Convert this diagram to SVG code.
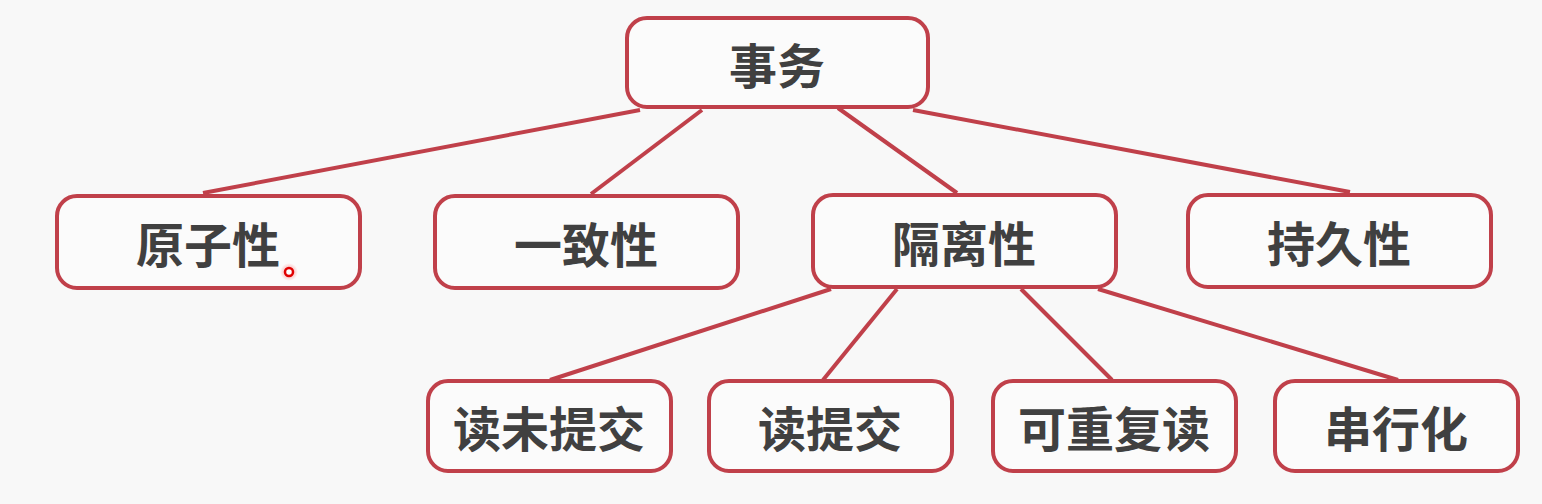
<svg xmlns="http://www.w3.org/2000/svg" width="1542" height="504" viewBox="0 0 1542 504">
<defs>
<style>
.box{fill:#fbfbfb;stroke:#c0404a;stroke-width:4}
.lbl{font-family:"Noto Sans CJK SC","Noto Sans",sans-serif;font-weight:bold;font-size:48px;fill:#404040;text-anchor:middle;dominant-baseline:central}
.edge{stroke:#c0404a;stroke-width:4;fill:none}
</style>
<radialGradient id="glow"><stop offset="0" stop-color="#ff4040" stop-opacity="0.6"/><stop offset="1" stop-color="#ff4040" stop-opacity="0"/></radialGradient>
</defs>
<rect width="1542" height="504" fill="#f8f8f8"/>
<g id="connectors">
<line class="edge" x1="640" y1="110" x2="203" y2="193"/>
<line class="edge" x1="702" y1="110" x2="591" y2="194"/>
<line class="edge" x1="838" y1="108" x2="957" y2="193"/>
<line class="edge" x1="913" y1="110" x2="1350" y2="192"/>
<line class="edge" x1="831" y1="289" x2="550" y2="380"/>
<line class="edge" x1="897" y1="289" x2="823" y2="380"/>
<line class="edge" x1="1021" y1="289" x2="1112" y2="380"/>
<line class="edge" x1="1098" y1="289" x2="1398" y2="380"/>
</g>
<g id="n-root"><rect class="box" x="627" y="18" width="301" height="89" rx="20"/><text class="lbl" x="777" y="63">事务</text></g>
<g id="n-atom"><rect class="box" x="57" y="196" width="303" height="92" rx="20"/><text class="lbl" x="208" y="242">原子性</text></g>
<g id="n-cons"><rect class="box" x="435" y="196" width="303" height="92" rx="20"/><text class="lbl" x="586" y="242">一致性</text></g>
<g id="n-iso"><rect class="box" x="813" y="195" width="303" height="92" rx="20"/><text class="lbl" x="964" y="241">隔离性</text></g>
<g id="n-dur"><rect class="box" x="1188" y="195" width="303" height="92" rx="20"/><text class="lbl" x="1339" y="241">持久性</text></g>
<g id="n-ru"><rect class="box" x="428" y="381" width="243" height="90" rx="20"/><text class="lbl" x="549" y="426">读未提交</text></g>
<g id="n-rc"><rect class="box" x="709" y="381" width="243" height="90" rx="20"/><text class="lbl" x="830" y="426">读提交</text></g>
<g id="n-rr"><rect class="box" x="993" y="381" width="243" height="90" rx="20"/><text class="lbl" x="1114" y="426">可重复读</text></g>
<g id="n-ser"><rect class="box" x="1275" y="381" width="243" height="90" rx="20"/><text class="lbl" x="1396" y="426">串行化</text></g>
<circle cx="289" cy="272" r="9" fill="url(#glow)"/>
<circle cx="289" cy="272" r="4" fill="#fff" stroke="#e00000" stroke-width="2.5"/>
</svg>
